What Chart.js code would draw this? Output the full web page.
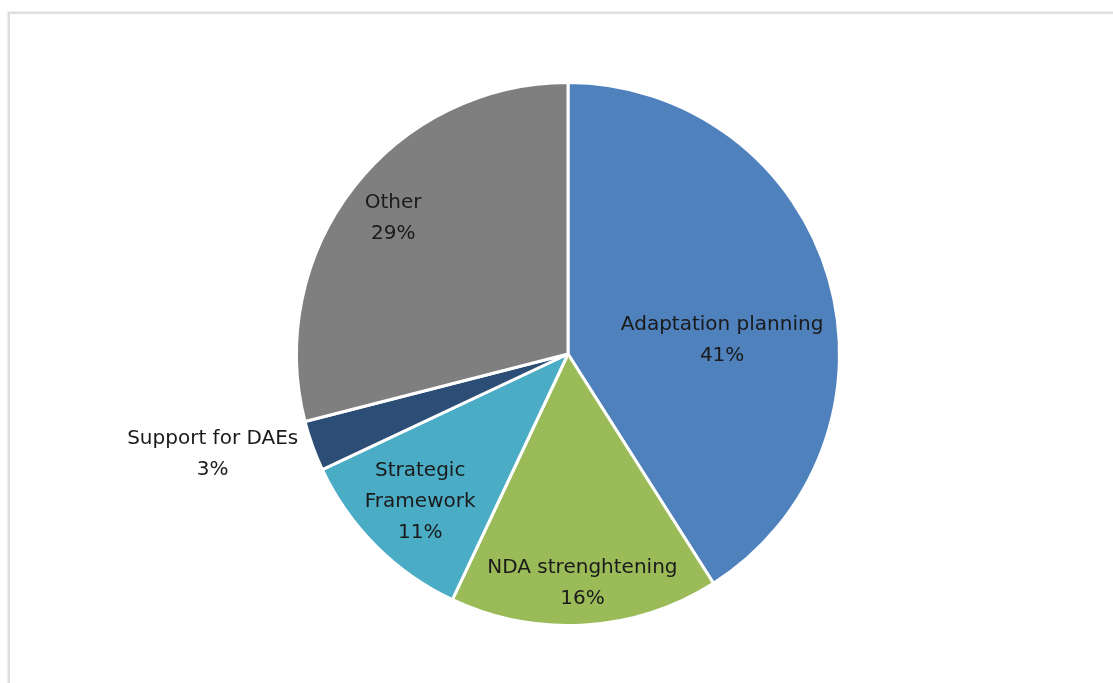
<!DOCTYPE html>
<html>
<head>
<meta charset="utf-8">
<script src="https://cdn.jsdelivr.net/npm/chart.js@4/dist/chart.umd.min.js"></script>
<style>
  html, body { margin: 0; padding: 0; background: #fff; overflow: hidden; }
  #frame {
    position: absolute; left: 8px; top: 12px; width: 1200px; height: 800px;
    border-top: 2px solid #dedede; border-left: 2px solid #dedede;
    box-shadow: -1px -1px 1px #f0f0f0;
  }
  #wrap { position: absolute; left: 0; top: 0; width: 1113px; height: 683px; }
</style>
</head>
<body>
<div id="frame"></div>
<div id="wrap"><canvas id="pie"></canvas></div>
<script>
// Share of activities by type
const categories = ['Adaptation planning', 'NDA strenghtening', 'Strategic Framework', 'Support for DAEs', 'Other'];
const labelLines = [['Adaptation planning'], ['NDA strenghtening'], ['Strategic', 'Framework'], ['Support for DAEs'], ['Other']];
const shares = [41, 16, 11, 3, 29];
const sliceColors = ['#4f81bd', '#9bbb59', '#4bacc6', '#2c4d75', '#7f7f7f'];

// label placement: fraction of the radius and angle shift (degrees) from the slice middle
const labelRadius = [0.57, 0.845, 0.77, 1.36, 0.815];
const labelShift = [11, 0, 0, 4, 0];

const sliceLabels = {
  id: 'sliceLabels',
  afterDatasetsDraw(chart) {
    const ctx = chart.ctx;
    const meta = chart.getDatasetMeta(0);
    ctx.save();
    ctx.font = '20px "DejaVu Sans", sans-serif';
    ctx.fillStyle = '#1a1a1a';
    ctx.textAlign = 'center';
    ctx.textBaseline = 'middle';
    meta.data.forEach((arc, i) => {
      const p = arc.getProps(['x', 'y', 'startAngle', 'endAngle', 'outerRadius'], true);
      const mid = (p.startAngle + p.endAngle) / 2 + labelShift[i] * Math.PI / 180;
      const r = p.outerRadius * labelRadius[i];
      const cx = p.x + Math.cos(mid) * r;
      const cy = p.y + Math.sin(mid) * r;
      const lines = labelLines[i].concat([shares[i] + '%']);
      const lh = 31;
      lines.forEach((t, k) => {
        ctx.fillText(t, cx, cy + (k - (lines.length - 1) / 2) * lh);
      });
    });
    ctx.restore();
  }
};

new Chart(document.getElementById('pie'), {
  type: 'pie',
  data: {
    labels: categories,
    datasets: [{
      data: shares,
      backgroundColor: sliceColors,
      borderColor: '#ffffff',
      borderWidth: 3
    }]
  },
  options: {
    responsive: true,
    maintainAspectRatio: false,
    animation: false,
    layout: { padding: { top: 81, bottom: 56, left: 100, right: 77 } },
    plugins: { legend: { display: false }, tooltip: { enabled: false } }
  },
  plugins: [sliceLabels]
});
</script>
</body>
</html>
